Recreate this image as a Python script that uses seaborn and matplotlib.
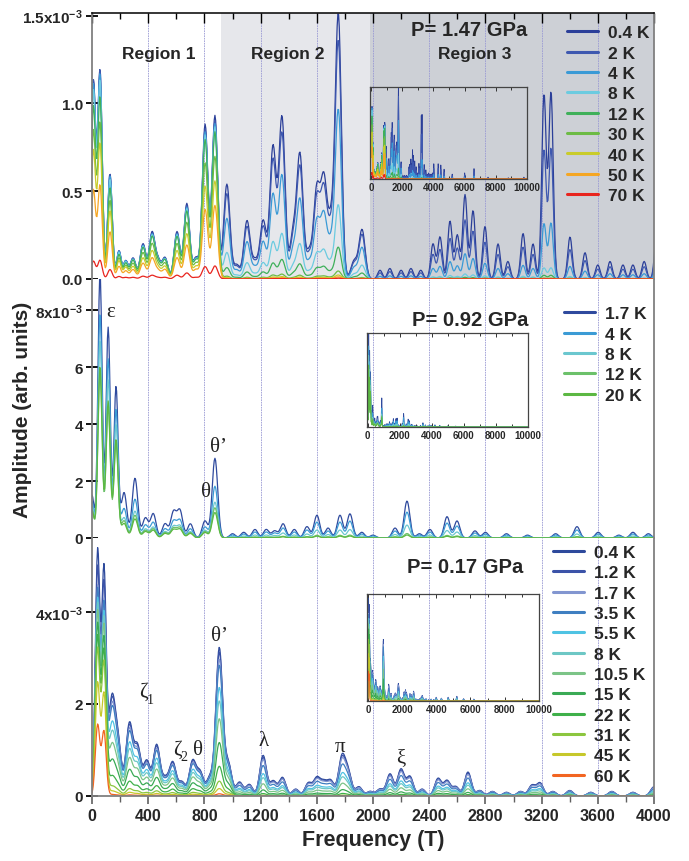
import numpy as np
import pandas as pd
import matplotlib
matplotlib.use('Agg')
import matplotlib.pyplot as plt
from matplotlib.lines import Line2D
from matplotlib.ticker import MultipleLocator, FixedLocator
import seaborn as sns

# amplitudes are in units of 1e-3 (arb. units), frequencies in T

# ---- P = 1.47 GPa ----
temps_147 = ['0.4 K', '2 K', '4 K', '8 K', '12 K', '30 K', '40 K', '50 K', '70 K']
colors_147 = ['#2b3f99', '#3e58b0', '#3a9ad6', '#6ccbe0', '#3fb05a',
              '#6dbb45', '#c9cc2b', '#f5a623', '#e8241e']
peak_f_147 = [10, 57, 128, 192, 240, 292, 363, 427, 470, 520, 605, 675, 740, 805, 875,
              960, 1030, 1103, 1160, 1218, 1288, 1352, 1431, 1480, 1545, 1600, 1650, 1700,
              1753, 1865, 1922, 2050, 2120, 2200, 2270, 2340, 2427, 2477, 2548, 2600, 2655,
              2712, 2797, 2890, 2960, 3068, 3139, 3217, 3267, 3402, 3509, 3600, 3687, 3779,
              3850, 3930, 4020, 4300, 4470, 4680, 5200, 6000, 6600, 7500, 8800, 9800]
peak_a_147 = [1.12, 1.18, 0.6, 0.16, 0.1, 0.12, 0.2, 0.26, 0.1, 0.12, 0.27, 0.43, 0.12, 0.88, 0.93,
              0.54, 0.08, 0.33, 0.1, 0.33, 0.75, 0.92, 0.25, 0.7, 0.15, 0.5, 0.55, 0.3,
              1.5, 0.1, 0.28, 0.05, 0.06, 0.05, 0.06, 0.05, 0.2, 0.24, 0.33, 0.25, 0.48,
              0.39, 0.3, 0.2, 0.1, 0.26, 0.2, 1.05, 1.06, 0.24, 0.15, 0.08, 0.1, 0.08,
              0.08, 0.1, 0.25, 0.25, 0.23, 0.16, 0.08, 0.1, 0.17, 0.03, 0.02, 0.03]
edges_147 = [250, 950, 2000]
width_147 = [16, 20, 22, 16]
damp_147 = [[1, 1, 1, 1],
            [1, 0.97, 0.9, 0.7],
            [0.98, 0.95, 0.64, 0.3],
            [0.95, 0.93, 0.28, 0.06],
            [0.87, 0.9, 0.12, 0.02],
            [0.75, 0.75, 0.03, 0.005],
            [0.65, 0.6, 0.015, 0.003],
            [0.45, 0.45, 0.008, 0.002],
            [0.09, 0.08, 0.003, 0.001]]

# ---- P = 0.92 GPa ----
temps_092 = ['1.7 K', '4 K', '8 K', '12 K', '20 K']
colors_092 = ['#2f4a9e', '#3b9bd5', '#6bc7cf', '#6cc16a', '#5cb843']
peak_f_092 = [0, 57, 115, 171, 228, 306, 380, 436, 520, 580, 626, 700, 804, 875, 1000,
              1080, 1160, 1240, 1300, 1360, 1440, 1530, 1601, 1680, 1765, 1836, 1920, 2000,
              2157, 2242, 2330, 2405, 2527, 2598, 2726, 2800, 2950, 3100, 3300, 3452, 3603,
              3750, 3850, 3960, 4200, 4500, 5000, 5500]
peak_a_092 = [1.5, 9.3, 7.4, 5.3, 1.6, 2.1, 0.7, 0.85, 0.5, 0.9, 0.95, 0.5, 0.6, 2.8, 0.15,
              0.2, 0.3, 0.3, 0.25, 0.5, 0.3, 0.4, 0.8, 0.35, 0.8, 0.85, 0.2, 0.1,
              0.35, 1.3, 0.15, 0.3, 0.75, 0.6, 0.25, 0.2, 0.15, 0.1, 0.15, 0.4, 0.2,
              0.1, 0.2, 0.15, 0.2, 0.15, 0.1, 0.08]
edges_092 = [200, 1000]
width_092 = [15, 20, 20]
damp_092 = [[1, 1, 1],
            [0.85, 0.65, 0.7],
            [0.75, 0.45, 0.35],
            [0.62, 0.38, 0.12],
            [0.65, 0.32, 0.08]]

# ---- P = 0.17 GPa ----
temps_017 = ['0.4 K', '1.2 K', '1.7 K', '3.5 K', '5.5 K', '8 K', '10.5 K',
             '15 K', '22 K', '31 K', '45 K', '60 K']
colors_017 = ['#2e4a9c', '#3c53a8', '#8296d0', '#3f7fc1', '#4fc3e3', '#6dc7c5',
              '#7cc487', '#3aaa55', '#3fb04a', '#8cc63f', '#c6c82b', '#f26522']
peak_f_017 = [40, 85, 140, 185, 266, 324, 390, 460, 520, 575, 640, 716, 770, 840, 906,
              970, 1050, 1120, 1218, 1290, 1356, 1450, 1540, 1600, 1650, 1700, 1778, 1823,
              1900, 1980, 2050, 2121, 2199, 2263, 2350, 2463, 2527, 2590, 2676, 2760, 2850,
              2950, 3050, 3131, 3189, 3280, 3400, 3550, 3700, 3850, 4000, 4300, 4700, 5200,
              5600, 6200]
peak_a_017 = [5.3, 4.8, 2.0, 1.1, 1.55, 1.05, 0.75, 1.1, 0.35, 0.72, 0.3, 0.75, 0.5, 0.4, 3.2,
              0.7, 0.3, 0.25, 0.88, 0.32, 0.4, 0.15, 0.28, 0.38, 0.28, 0.32, 0.82, 0.5,
              0.2, 0.1, 0.15, 0.48, 0.58, 0.42, 0.15, 0.38, 0.33, 0.2, 0.52, 0.12, 0.1,
              0.08, 0.1, 0.23, 0.28, 0.1, 0.12, 0.08, 0.1, 0.08, 0.2, 0.15, 0.2, 0.25,
              0.12, 0.1]
edges_017 = [120, 1000]
width_017 = [16, 24, 24]
damp_017 = [[1, 1, 1],
            [0.93, 0.97, 0.95],
            [0.85, 0.92, 0.9],
            [0.84, 0.88, 0.75],
            [0.8, 0.73, 0.55],
            [0.78, 0.64, 0.45],
            [0.75, 0.52, 0.3],
            [0.7, 0.36, 0.15],
            [0.65, 0.2, 0.06],
            [0.6, 0.1, 0.02],
            [0.46, 0.05, 0.005],
            [0.29, 0.015, 0.002]]

freq = np.arange(0, 10001, 5.0)


def spectra(temps, pf, pa, edges, widths, damp):
    pf = np.asarray(pf, float)
    pa = np.asarray(pa, float)
    band = np.digitize(pf, edges)
    w = np.asarray(widths, float)[band]
    shapes = np.exp(-0.5 * ((freq[:, None] - pf[None, :]) / w[None, :]) ** 2)
    rows = []
    for t, d in zip(temps, damp):
        amp = shapes @ (pa * np.asarray(d)[band])
        rows.append(pd.DataFrame({'freq': freq, 'amp': amp, 'T': t}))
    return pd.concat(rows, ignore_index=True)


df_147 = spectra(temps_147, peak_f_147, peak_a_147, edges_147, width_147, damp_147)
df_092 = spectra(temps_092, peak_f_092, peak_a_092, edges_092, width_092, damp_092)
df_017 = spectra(temps_017, peak_f_017, peak_a_017, edges_017, width_017, damp_017)

sns.set_theme(style='white')
plt.rcParams['font.family'] = ['Liberation Sans', 'DejaVu Sans']
plt.rcParams['font.weight'] = 'bold'
plt.rcParams['mathtext.fontset'] = 'custom'
plt.rcParams['mathtext.rm'] = 'Liberation Sans:bold'
plt.rcParams['mathtext.it'] = 'Liberation Sans:bold'
plt.rcParams['mathtext.bf'] = 'Liberation Sans:bold'

fig = plt.figure(figsize=(6.89, 8.62), dpi=100)
W, H = 689, 862
left_px, right_px = 92, 654


def add_ax(top_px, bot_px):
    return fig.add_axes([left_px / W, 1 - bot_px / H, (right_px - left_px) / W, (bot_px - top_px) / H])


ax1 = add_ax(14, 280)
ax2 = add_ax(280, 539)
ax3 = add_ax(539, 797)

panels = [
    (ax1, df_147, temps_147, colors_147, 1.515, [0, 0.5, 1.0, 1.5],
     ['0.0', '0.5', '1.0', '1.5x10$^{-3}$'],
     (0.845, 0.954), [0.495, 0.376, 0.279, 0.346]),
    (ax2, df_092, temps_092, colors_092, 9.1, [0, 2, 4, 6, 8],
     ['0', '2', '4', '6', '8x10$^{-3}$'],
     (0.84, 0.895), [0.489, 0.429, 0.286, 0.363]),
    (ax3, df_017, temps_017, colors_017, 5.6, [0, 2, 4],
     ['0', '2', '4x10$^{-3}$'],
     (0.82, 0.974), [0.489, 0.368, 0.306, 0.415]),
]

grid_col = '#9a9ad4'
for ax, df, temps, cols, ytop, yt, ytl, leg_xy, ins_b in panels:
    ax.set_facecolor('white')
    if ax is ax1:
        ax.axvspan(920, 1980, color='#e6e7eb', lw=0, zorder=0)
        ax.axvspan(1980, 4000, color='#cdd0d6', lw=0, zorder=0)
    for g in range(400, 4000, 400):
        ax.axvline(g, color=grid_col, lw=0.6, ls=(0, (2, 1)), zorder=0.5)
    sns.lineplot(data=df, x='freq', y='amp', hue='T', hue_order=temps, palette=cols,
                 linewidth=0.9, legend=False, ax=ax, zorder=2)
    ax.set_xlim(0, 4000)
    ax.set_ylim(0, ytop)
    ax.set_xlabel('')
    ax.set_ylabel('')
    ax.yaxis.set_major_locator(FixedLocator(yt))
    ax.set_yticklabels(ytl, fontsize=11, fontweight='bold')
    ax.tick_params(axis='y', direction='inout', length=9, width=1.3, color='black', pad=2, left=True)
    for s in ['left', 'right']:
        ax.spines[s].set_color('#808080')
        ax.spines[s].set_linewidth(1.3)
    ax.spines['top'].set_visible(False)
    ax.spines['bottom'].set_visible(False)
    ax.xaxis.set_major_locator(MultipleLocator(400))
    ax.xaxis.set_minor_locator(MultipleLocator(200))

    handles = [Line2D([], [], color=c, lw=2.2) for c in cols]
    ax.legend(handles, temps, loc='upper left', bbox_to_anchor=leg_xy, frameon=False,
              prop={'weight': 'bold', 'size': 12.5}, handlelength=1.8, handletextpad=0.55,
              labelspacing=0.3, borderpad=0, borderaxespad=0)

    # inset with the full 0-10000 T range
    ins = ax.inset_axes(ins_b)
    ins.set_facecolor('none')
    sns.lineplot(data=df, x='freq', y='amp', hue='T', hue_order=temps, palette=cols,
                 linewidth=0.6, legend=False, ax=ins)
    ins.set_xlim(-60, 10000)
    ins.set_ylim(0, ytop)
    ins.set_xlabel('')
    ins.set_ylabel('')
    ins.set_yticks([])
    ins.xaxis.set_major_locator(MultipleLocator(2000))
    ins.xaxis.set_minor_locator(MultipleLocator(1000))
    ins.tick_params(axis='x', which='both', direction='in', top=True, bottom=True,
                    labelsize=7, pad=2, length=3, width=0.7, color='#333333')
    ins.tick_params(axis='x', which='minor', length=2)
    for lab in ins.get_xticklabels():
        lab.set_fontweight('bold')
    for s in ins.spines.values():
        s.set_color('#444444')
        s.set_linewidth(0.9)

# top panel: ticks on top edge
ax1.spines['top'].set_visible(True)
ax1.spines['top'].set_color('black')
ax1.spines['top'].set_linewidth(1.1)
ax1.tick_params(axis='x', which='both', top=True, bottom=False, labeltop=False,
                labelbottom=False, direction='in', color='black', width=1)
ax1.tick_params(axis='x', which='major', length=7)
ax1.tick_params(axis='x', which='minor', length=4)
ax2.tick_params(axis='x', which='both', bottom=False, labelbottom=False)
ax3.spines['bottom'].set_visible(True)
ax3.spines['bottom'].set_color('#808080')
ax3.spines['bottom'].set_linewidth(1.3)
ax3.tick_params(axis='x', which='both', bottom=True, direction='out', color='#606060',
                labelsize=11.5, pad=3)
ax3.tick_params(axis='x', which='major', length=6, width=1.2)
ax3.tick_params(axis='x', which='minor', length=4, width=1)
for lab in ax3.get_xticklabels():
    lab.set_fontweight('bold')
ax3.set_xlabel('Frequency (T)', fontsize=15.5, fontweight='bold', labelpad=4)

fig.text(0.032, 0.524, 'Amplitude (arb. units)', rotation=90, ha='center', va='center',
         fontsize=15, fontweight='bold')

# panel texts
ax1.text(0.774, 0.937, 'P= 1.47 GPa', transform=ax1.transAxes, ha='right', va='center',
         fontsize=14.5, fontweight='bold')
ax1.text(0.119, 0.846, 'Region 1', transform=ax1.transAxes, ha='center', va='center',
         fontsize=12.5, fontweight='bold')
ax1.text(0.349, 0.846, 'Region 2', transform=ax1.transAxes, ha='center', va='center',
         fontsize=12.5, fontweight='bold')
ax1.text(0.681, 0.846, 'Region 3', transform=ax1.transAxes, ha='center', va='center',
         fontsize=12.5, fontweight='bold')
ax2.text(0.776, 0.843, 'P= 0.92 GPa', transform=ax2.transAxes, ha='right', va='center',
         fontsize=14.5, fontweight='bold')
ax3.text(0.767, 0.89, 'P= 0.17 GPa', transform=ax3.transAxes, ha='right', va='center',
         fontsize=14.5, fontweight='bold')

serif = ['Liberation Serif', 'DejaVu Serif']
greek_kw = dict(family=serif, fontweight='normal', fontsize=15, ha='center', va='center',
                color='#222222', zorder=5)
sub_kw = dict(family=serif, fontweight='normal', fontsize=10, ha='center', va='center',
              color='#222222', zorder=5)
ax2.text(135, 7.96, 'ε', **greek_kw)
ax2.text(897, 3.23, 'θ’', **greek_kw)
ax2.text(811, 1.65, 'θ', **greek_kw)
ax3.text(363, 2.28, 'ζ', **greek_kw)
ax3.text(415, 2.1, '1', **sub_kw)
ax3.text(605, 1.02, 'ζ', **greek_kw)
ax3.text(655, 0.86, '2', **sub_kw)
ax3.text(758, 1.02, 'θ', **greek_kw)
ax3.text(911, 3.48, 'θ’', **greek_kw)
ax3.text(1224, 1.2, 'λ', **greek_kw)
ax3.text(1765, 1.07, 'π', **greek_kw)
ax3.text(2199, 0.83, 'ξ', **greek_kw)

fig.savefig('out.png', dpi=100)
